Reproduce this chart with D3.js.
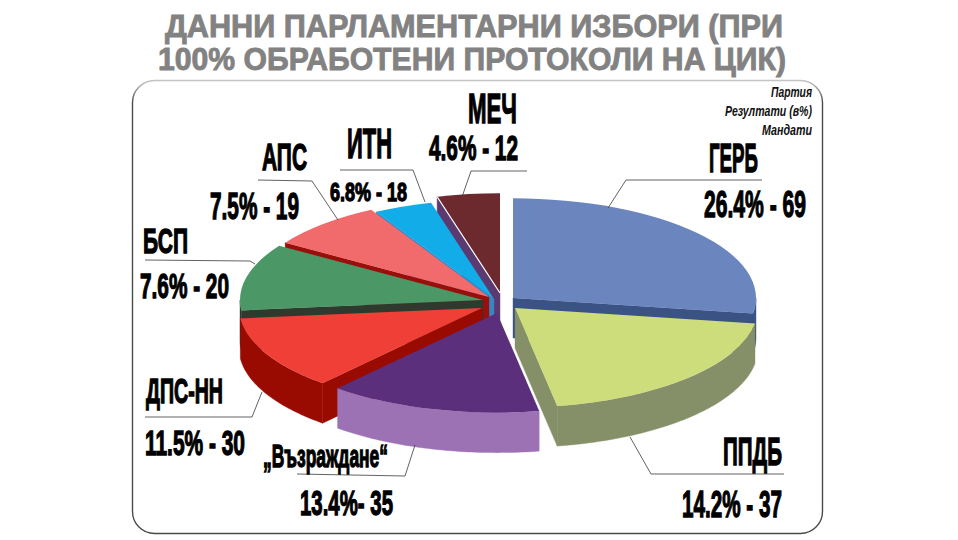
<!DOCTYPE html>
<html>
<head>
<meta charset="utf-8">
<script src="https://cdnjs.cloudflare.com/ajax/libs/d3/7.8.5/d3.min.js"></script>
<style>
html,body{margin:0;padding:0;background:#fff;}
svg{display:block;}
</style>
</head>
<body>
<svg id="chart" width="958" height="540"></svg>
<script>
// ---- data ----
const parties = ["ГЕРБ","ППДБ","„Възраждане“","ДПС-НН","БСП","АПС","ИТН","МЕЧ"];
const percents = ["26.4","14.2","13.4","11.5","7.6","7.5","6.8","4.6"];
const seats = [69,37,35,30,20,19,18,12];
const separators = [" - "," - ","- "," - "," - "," - "," - "," - "];
// The reference's slices are not proportional to the printed results:
// these are the sweeps, in degrees, that the picture actually draws.
const drawnSweeps = [99,71,51,43,39,28,14,15];
const titleLines = ["ДАННИ ПАРЛАМЕНТАРНИ ИЗБОРИ (ПРИ","100% ОБРАБОТЕНИ ПРОТОКОЛИ НА ЦИК)"];
const legendLines = ["Партия","Резултати (в%)","Мандати"];

// ---- styles ----
const topColors  = ["#6b86bf","#cedd7b","#5b2f7c","#ef3f37","#4b9766","#f26b6c","#12ade8","#6d2a2e"];
const wallColors = ["#3a5284","#858f68","#9c72b4","#990a00","#2d3a2d","#990f0b","#3a85c4","#5a3a70"];

// ---- layout ----
const W = 958, H = 540;
const cx = 497, cy = 302, radius = 243, tilt = 0.41, depth = 40;
const explodeX = [16,18,0,-15,-14,-8,-3,3];
const explodeY = [-4,6,11,6,-2,-5,-3,-9];
const highlightedEdge = 7; // thin white line along the МЕЧ slice's left edge
const fontFace = "'Liberation Sans Narrow','Liberation Sans',Arial,sans-serif";
const nameBoxes = [[709,758,172],[723,782,465],[263,388,467],[146,223,403],[143,188,253],[262,307,170],[347,392,158],[468,517,123]];
const valueBoxes = [[704,806,217],[682,782,517],[300,393,515],[145,245,455],[140,229,298],[210,299,219],[330,407,201],[429,518,160]];
const nameCap = [29,28,23,25,25,27,30,30];
const valueCap = [27,27,25,25,25,26,19,25];
const titleBoxes = [[165,783,37],[158,786,70]];
const legendBoxes = [[771,812,97],[725,812,116],[762,812,135]];
const leaders = [
  [[608,208],[626,180],[762,180]],
  [[630,437],[651,474],[784,474]],
  [[415,445],[405,476],[297,474]],
  [[262,392],[252,417],[145,417]],
  [[255,264],[250,261],[145,260]],
  [[338,220],[312,181],[258,180]],
  [[425,202],[413,170],[340,170]],
  [[462,197],[471,171],[527,171]]
];

const svg = d3.select("#chart");
svg.append("rect").attr("width",W).attr("height",H).attr("fill","#fff");

// title
svg.append("g").selectAll("text").data(titleLines).join("text")
  .attr("x",(d,i)=>titleBoxes[i][0])
  .attr("y",(d,i)=>titleBoxes[i][2])
  .attr("textLength",(d,i)=>titleBoxes[i][1]-titleBoxes[i][0])
  .attr("lengthAdjust","spacingAndGlyphs")
  .attr("font-family",fontFace).attr("font-weight","bold").attr("font-size",32)
  .attr("fill","#828282").attr("stroke","#828282").attr("stroke-width",0.9)
  .text(d=>d);

// frame: the top edge fades to a lighter grey
const grad = svg.append("defs").append("linearGradient").attr("id","frameStroke")
  .attr("x1",0).attr("y1",0).attr("x2",0).attr("y2",1);
grad.append("stop").attr("offset",0).attr("stop-color","#c4c4c4");
grad.append("stop").attr("offset",0.05).attr("stop-color","#4a4a4a");
grad.append("stop").attr("offset",1).attr("stop-color","#4a4a4a");
svg.append("rect").attr("x",132.5).attr("y",80.5).attr("width",690).attr("height",453)
  .attr("rx",22).attr("ry",22).attr("fill","#fff").attr("stroke","url(#frameStroke)").attr("stroke-width",1.4);

// pie
const pie = d3.pie().value(d=>d).sort(null);
const arcs = pie(drawnSweeps).map((a,i)=>({...a,i}));
const arcGen = d3.arc().innerRadius(0).outerRadius(radius);
const project = ([x,y]) => [x, y*tilt];
const onRim = a => project(d3.pointRadial(a,radius));
const drop = ([x,y]) => [x,y+depth];
const line = d3.line();
const rad = Math.PI/180;

// painter's order: farthest slice first
const order = arcs.slice().sort((a,b)=>Math.cos((b.startAngle+b.endAngle)/2)-Math.cos((a.startAngle+a.endAngle)/2));

const pieG = svg.append("g");
order.forEach(a=>{
  const g = pieG.append("g").attr("transform",`translate(${cx+explodeX[a.i]},${cy+explodeY[a.i]})`);
  const wall = wallColors[a.i];
  const drawWall = pts => g.append("path").attr("d",line(pts)+"Z").attr("fill",wall).attr("stroke",wall).attr("stroke-width",0.4);
  // radial walls facing the viewer
  if (a.startAngle > Math.PI) {
    const p = onRim(a.startAngle);
    drawWall([[0,0],p,drop(p),[0,depth]]);
  }
  if (a.endAngle < Math.PI) {
    const p = onRim(a.endAngle);
    drawWall([[0,0],p,drop(p),[0,depth]]);
  }
  // outer wall
  const lo = Math.max(a.startAngle,Math.PI/2), hi = Math.min(a.endAngle,3*Math.PI/2);
  if (hi > lo) {
    const angles = d3.range(lo,hi,rad).concat([hi]);
    const rim = angles.map(onRim);
    drawWall(rim.concat(rim.slice().reverse().map(drop)));
  }
  // top surface
  g.append("path").attr("transform",`scale(1,${tilt})`)
    .attr("d",arcGen({startAngle:a.startAngle,endAngle:a.endAngle}))
    .attr("fill",topColors[a.i]);
});
// white edge line, above the neighbouring slice
{
  const a = arcs[highlightedEdge];
  pieG.append("path")
    .attr("transform",`translate(${cx+explodeX[a.i]},${cy+explodeY[a.i]})`)
    .attr("d",line([[0,0],onRim(a.startAngle)]))
    .attr("fill","none").attr("stroke","#fff").attr("stroke-width",1.2);
}

// leader lines
svg.append("g").selectAll("path").data(leaders).join("path")
  .attr("d",d=>line(d)).attr("fill","none").attr("stroke","#3a3a3a").attr("stroke-width",0.8);

// labels
function fitted(sel, boxes, caps, textFn){
  sel.join("text")
    .attr("x",(d,i)=>boxes[i][0])
    .attr("y",(d,i)=>boxes[i][2])
    .attr("textLength",(d,i)=>boxes[i][1]-boxes[i][0])
    .attr("lengthAdjust","spacingAndGlyphs")
    .attr("font-family",fontFace).attr("font-weight","bold")
    .attr("font-size",(d,i)=>caps[i]/0.716)
    .attr("fill","#000").attr("stroke","#000").attr("stroke-width",1.3)
    .text(textFn);
}
fitted(svg.append("g").selectAll("text").data(parties), nameBoxes, nameCap, d=>d);
fitted(svg.append("g").selectAll("text").data(percents), valueBoxes, valueCap, (d,i)=>`${d}%${separators[i]}${seats[i]}`);

// small legend
svg.append("g").selectAll("text").data(legendLines).join("text")
  .attr("x",(d,i)=>legendBoxes[i][0]).attr("y",(d,i)=>legendBoxes[i][2])
  .attr("textLength",(d,i)=>legendBoxes[i][1]-legendBoxes[i][0])
  .attr("lengthAdjust","spacingAndGlyphs")
  .attr("font-family",fontFace).attr("font-weight","bold").attr("font-style","italic")
  .attr("font-size",15).attr("fill","#111")
  .text(d=>d);
</script>
</body>
</html>
